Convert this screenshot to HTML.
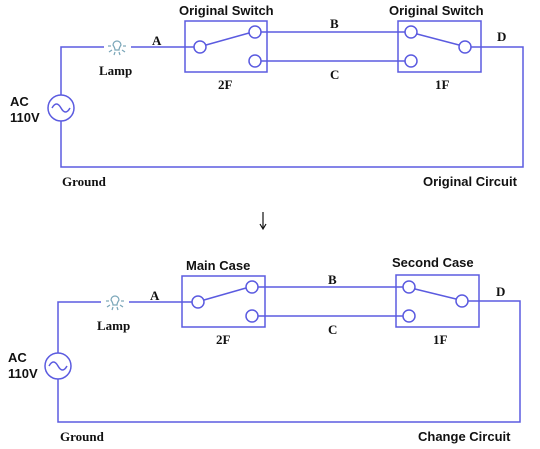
<!DOCTYPE html>
<html><head><meta charset="utf-8"><style>
html,body{margin:0;padding:0;background:#fff;width:540px;height:449px;overflow:hidden}
.s{font-family:"Liberation Sans",sans-serif;font-weight:bold;font-size:13px;fill:#111}
.r{font-family:"Liberation Serif",serif;font-weight:bold;font-size:13px;fill:#111}
</style></head><body>
<svg width="540" height="449" viewBox="0 0 540 449" xmlns="http://www.w3.org/2000/svg">
<defs>
<g id="lamp">
 <path d="M-4,-1 A4,4 0 1 1 4,-1 Q2,2 2,4 L-2,4 Q-2,2 -4,-1 Z" fill="none" stroke="#7aa6b8" stroke-width="1.2"/>
 <line x1="-9" y1="0" x2="-6" y2="0" stroke="#7aa6b8" stroke-width="1.2"/>
 <line x1="6" y1="0" x2="9" y2="0" stroke="#7aa6b8" stroke-width="1.2"/>
 <line x1="-2" y1="6" x2="-3" y2="9" stroke="#7aa6b8" stroke-width="1.2"/>
 <line x1="2" y1="6" x2="3" y2="9" stroke="#7aa6b8" stroke-width="1.2"/>
 <line x1="-5" y1="4" x2="-8" y2="6" stroke="#7aa6b8" stroke-width="1.2"/>
 <line x1="5" y1="4" x2="8" y2="6" stroke="#7aa6b8" stroke-width="1.2"/>
</g>
</defs>
<g fill="none" stroke="#5b5be0" stroke-width="1.5">
 <polyline points="104,47 61,47 61,95"/>
 <polyline points="61,121 61,167 523,167 523,47 471,47"/>
 <line x1="131" y1="47" x2="194" y2="47"/>
 <rect x="185" y="21" width="82" height="51"/>
 <circle cx="200" cy="47" r="6"/><circle cx="255" cy="32" r="6"/><circle cx="255" cy="61" r="6"/>
 <line x1="206" y1="45" x2="249" y2="33"/>
 <line x1="261" y1="32" x2="405" y2="32"/><line x1="261" y1="61" x2="405" y2="61"/>
 <rect x="398" y="21" width="83" height="51"/>
 <circle cx="411" cy="32" r="6"/><circle cx="411" cy="61" r="6"/><circle cx="465" cy="47" r="6"/>
 <line x1="417" y1="34" x2="459" y2="45"/>
 <circle cx="61" cy="108" r="13"/>
 <path d="M52,108 Q56.5,100 61,108 T70,108"/>
 <polyline points="101,302 58,302 58,353"/>
 <polyline points="58,379 58,422 520,422 520,301 468,301"/>
 <line x1="129" y1="302" x2="192" y2="302"/>
 <rect x="182" y="276" width="83" height="51"/>
 <circle cx="198" cy="302" r="6"/><circle cx="252" cy="287" r="6"/><circle cx="252" cy="316" r="6"/>
 <line x1="204" y1="300" x2="246" y2="288"/>
 <line x1="258" y1="287" x2="403" y2="287"/><line x1="258" y1="316" x2="403" y2="316"/>
 <rect x="396" y="275" width="83" height="52"/>
 <circle cx="409" cy="287" r="6"/><circle cx="409" cy="316" r="6"/><circle cx="462" cy="301" r="6"/>
 <line x1="415" y1="289" x2="456" y2="299"/>
 <circle cx="58" cy="366" r="13"/>
 <path d="M49,366 Q53.5,358 58,366 T67,366"/>
</g>
<use href="#lamp" x="117" y="46"/>
<use href="#lamp" x="115" y="301"/>
<line x1="263" y1="212" x2="263" y2="228" stroke="#111" stroke-width="1.2"/>
<path d="M260,224 L263,229 L266,224" fill="none" stroke="#111" stroke-width="1.2"/>
<text class="s" x="179" y="15">Original  Switch</text>
<text class="s" x="389" y="15">Original  Switch</text>
<text class="r" x="152" y="45">A</text>
<text class="r" x="330" y="28">B</text>
<text class="r" x="330" y="79">C</text>
<text class="r" x="497" y="41">D</text>
<text class="r" x="99" y="75">Lamp</text>
<text class="r" x="218" y="89">2F</text>
<text class="r" x="435" y="89">1F</text>
<text class="s" x="10" y="106">AC</text>
<text class="s" x="10" y="122">110V</text>
<text class="r" x="62" y="186">Ground</text>
<text class="s" x="423" y="186">Original  Circuit</text>
<text class="s" x="186" y="270">Main  Case</text>
<text class="s" x="392" y="267">Second  Case</text>
<text class="r" x="150" y="300">A</text>
<text class="r" x="328" y="284">B</text>
<text class="r" x="328" y="334">C</text>
<text class="r" x="496" y="296">D</text>
<text class="r" x="97" y="330">Lamp</text>
<text class="r" x="216" y="344">2F</text>
<text class="r" x="433" y="344">1F</text>
<text class="s" x="8" y="362">AC</text>
<text class="s" x="8" y="378">110V</text>
<text class="r" x="60" y="441">Ground</text>
<text class="s" x="418" y="441">Change  Circuit</text>
</svg>
</body></html>
